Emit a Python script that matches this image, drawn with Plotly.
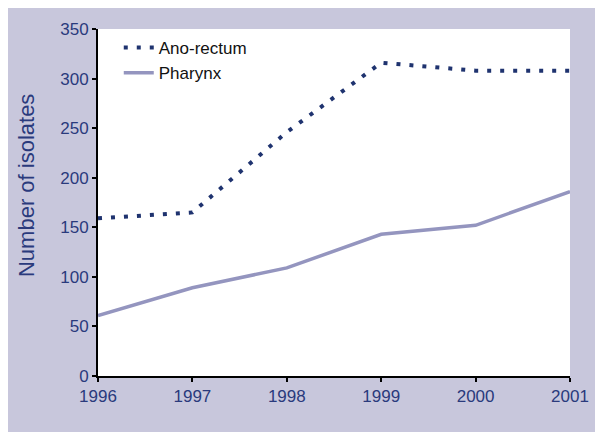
import plotly.graph_objects as go

years = [1996, 1997, 1998, 1999, 2000, 2001]
ano_rectum = [159, 165, 246, 316, 308, 308]
pharynx = [61, 89, 109, 143, 152, 186]
y_ticks = [0, 50, 100, 150, 200, 250, 300, 350]

NAVY = "#2a3a7c"
LAV = "#c8c7dc"

fig = go.Figure()
fig.add_trace(go.Scatter(x=years, y=ano_rectum, mode="lines", name="Ano-rectum",
                         line=dict(color="#1f336f", width=4, dash="4px,9px")))
fig.add_trace(go.Scatter(x=years, y=pharynx, mode="lines", name="Pharynx",
                         line=dict(color="#9495bf", width=3.5)))

fig.update_layout(
    width=595, height=424,
    margin=dict(l=90, r=33, t=17, b=56),
    paper_bgcolor=LAV, plot_bgcolor="white",
    font=dict(family="Liberation Sans, Arial, sans-serif", size=17, color=NAVY),
    showlegend=True,
    legend=dict(x=0.044, y=0.997, xanchor="left", yanchor="top", bgcolor="rgba(0,0,0,0)",
                font=dict(size=17, color="#111111"), tracegroupgap=0, itemwidth=30),
    xaxis=dict(range=[1996, 2001], tickvals=years, ticktext=[str(y) for y in years],
               showgrid=False, zeroline=False, showline=True, linecolor="black", linewidth=2,
               ticks="outside", ticklen=4, tickwidth=2, tickcolor="black",
               tickfont=dict(size=17, color=NAVY)),
    yaxis=dict(range=[0, 350], tickvals=y_ticks, showgrid=False, zeroline=False,
               showline=True, linecolor="black", linewidth=2,
               ticks="outside", ticklen=4, tickwidth=2, tickcolor="black",
               tickfont=dict(size=17, color=NAVY)),
    annotations=[dict(text="Number of isolates", xref="paper", yref="paper",
                      x=-0.150, y=0.548, xanchor="center", yanchor="middle",
                      textangle=-90, showarrow=False,
                      font=dict(size=22, color=NAVY))],
)

fig.write_html("out.html")
